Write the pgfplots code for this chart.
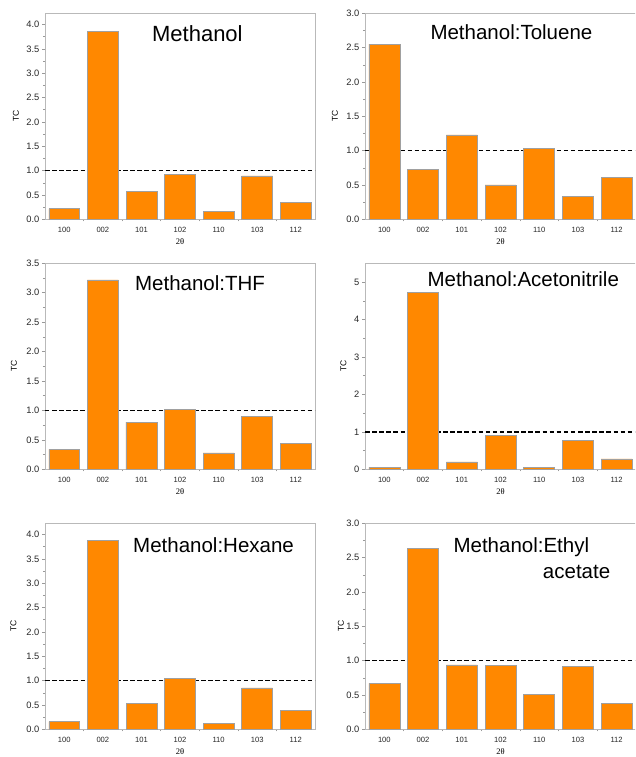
\documentclass[border=0pt]{standalone}
\usepackage{fontspec}
\setmainfont{Liberation Sans}
\newfontfamily\serifx{Liberation Serif}
\usepackage{pgfplots}
\pgfplotsset{compat=1.18}
\definecolor{barorange}{RGB}{255,136,0}
\definecolor{bargray}{RGB}{160,160,160}
\definecolor{framegray}{RGB}{185,185,185}
\tikzset{ttl/.style={anchor=west, inner sep=0pt, font=\fontsize{20.5}{24}\selectfont}}
\pgfplotsset{
  panel/.style={
    scale only axis, width=270pt, height=206pt,
    anchor=north west,
    xmin=-0.5, xmax=6.5, ymin=0,
    xtick={0,1,2,3,4,5,6},
    xticklabels={100,002,101,102,110,103,112},
    minor xtick={0.5,1.5,2.5,3.5,4.5,5.5},
    major x tick style={draw=none},
    tick align=outside, tick pos=left,
    major tick length=3pt, minor tick length=2pt,
    every tick/.style={draw=gray!80, line width=0.5pt},
    axis line style={draw=framegray, line width=0.7pt},
    /pgf/number format/assume math mode=true,
    yticklabel style={font=\fontsize{9.3}{11}\selectfont, text=black!85, inner sep=1pt, xshift=-1.5pt},
    xticklabel style={font=\fontsize{7.6}{9}\selectfont, text=black!85, inner sep=1pt, yshift=-3.5pt},
    minor y tick num=1,
    xlabel={\serifx 2θ},
    xlabel style={font=\fontsize{8.5}{10}\selectfont, at={(rel axis cs:0.5,0)}, anchor=center, yshift=-22pt},
    ylabel={TC},
    ylabel style={font=\fontsize{8.5}{10}\selectfont, at={(rel axis cs:0,0.5)}, anchor=center},
  },
  onedec/.style={yticklabel={\pgfmathprintnumber[fixed,fixed zerofill,precision=1]{\tick}}},
  refline/.style={black, line width=1.5pt, dash pattern=on 4.5pt off 2.6pt, forget plot},
  bars/.style={ybar, bar width=0.8, fill=barorange, draw=bargray, line width=0.5pt},
}
\begin{document}
\begin{tikzpicture}
\clip (0,0) rectangle (635pt,-757pt);
% Panel 1
\begin{axis}[panel, onedec, at={(45pt,-13.3pt)}, ymax=4.23,
  ytick={0,0.5,1,1.5,2,2.5,3,3.5,4},
  ylabel style={yshift=29pt}]
\addplot[refline] coordinates {(-0.5,1) (6.5,1)};
\addplot[bars] coordinates {(0,0.22) (1,3.86) (2,0.58) (3,0.93) (4,0.16) (5,0.89) (6,0.35)};
\node[ttl, font=\fontsize{22}{26}\selectfont] at (rel axis cs:0.396,0.903) {Methanol};
\end{axis}
% Panel 2
\begin{axis}[panel, onedec, at={(365pt,-13.3pt)}, width=271pt, ymax=3,
  ytick={0,0.5,1,1.5,2,2.5,3},
  ylabel style={yshift=30pt}]
\addplot[refline] coordinates {(-0.5,1) (6.5,1)};
\addplot[bars] coordinates {(0,2.55) (1,0.73) (2,1.23) (3,0.50) (4,1.03) (5,0.33) (6,0.61)};
\node[ttl] at (rel axis cs:0.241,0.908) {Methanol:Toluene};
\end{axis}
% Panel 3
\begin{axis}[panel, onedec, at={(45pt,-263.3pt)}, ymax=3.5,
  ytick={0,0.5,1,1.5,2,2.5,3,3.5},
  ylabel style={yshift=31pt}]
\addplot[refline] coordinates {(-0.5,1) (6.5,1)};
\addplot[bars] coordinates {(0,0.34) (1,3.22) (2,0.80) (3,1.02) (4,0.28) (5,0.90) (6,0.44)};
\node[ttl] at (rel axis cs:0.333,0.903) {Methanol:THF};
\end{axis}
% Panel 4
\begin{axis}[panel, at={(365pt,-263.3pt)}, width=271pt, ymax=5.5,
  ytick={0,1,2,3,4,5},
  ylabel style={yshift=21.5pt}]
\addplot[refline] coordinates {(-0.5,1) (6.5,1)};
\addplot[bars] coordinates {(0,0.05) (1,4.72) (2,0.20) (3,0.91) (4,0.05) (5,0.78) (6,0.28)};
\node[ttl] at (rel axis cs:0.23,0.923) {Methanol:Acetonitrile};
\end{axis}
% Panel 5
\begin{axis}[panel, onedec, at={(45pt,-523.3pt)}, ymax=4.23,
  ytick={0,0.5,1,1.5,2,2.5,3,3.5,4},
  ylabel style={yshift=31.5pt}]
\addplot[refline] coordinates {(-0.5,1) (6.5,1)};
\addplot[bars] coordinates {(0,0.16) (1,3.88) (2,0.54) (3,1.04) (4,0.12) (5,0.85) (6,0.39)};
\node[ttl] at (rel axis cs:0.326,0.893) {Methanol:Hexane};
\end{axis}
% Panel 6
\begin{axis}[panel, onedec, at={(365pt,-523.3pt)}, width=271pt, ymax=3,
  ytick={0,0.5,1,1.5,2,2.5,3},
  ylabel style={yshift=24pt}]
\addplot[refline] coordinates {(-0.5,1) (6.5,1)};
\addplot[bars] coordinates {(0,0.67) (1,2.64) (2,0.94) (3,0.93) (4,0.51) (5,0.92) (6,0.38)};
\node[ttl] at (rel axis cs:0.326,0.883) {Methanol:Ethyl};
\node[ttl] at (rel axis cs:0.656,0.762) {acetate};
\end{axis}
\end{tikzpicture}
\end{document}
